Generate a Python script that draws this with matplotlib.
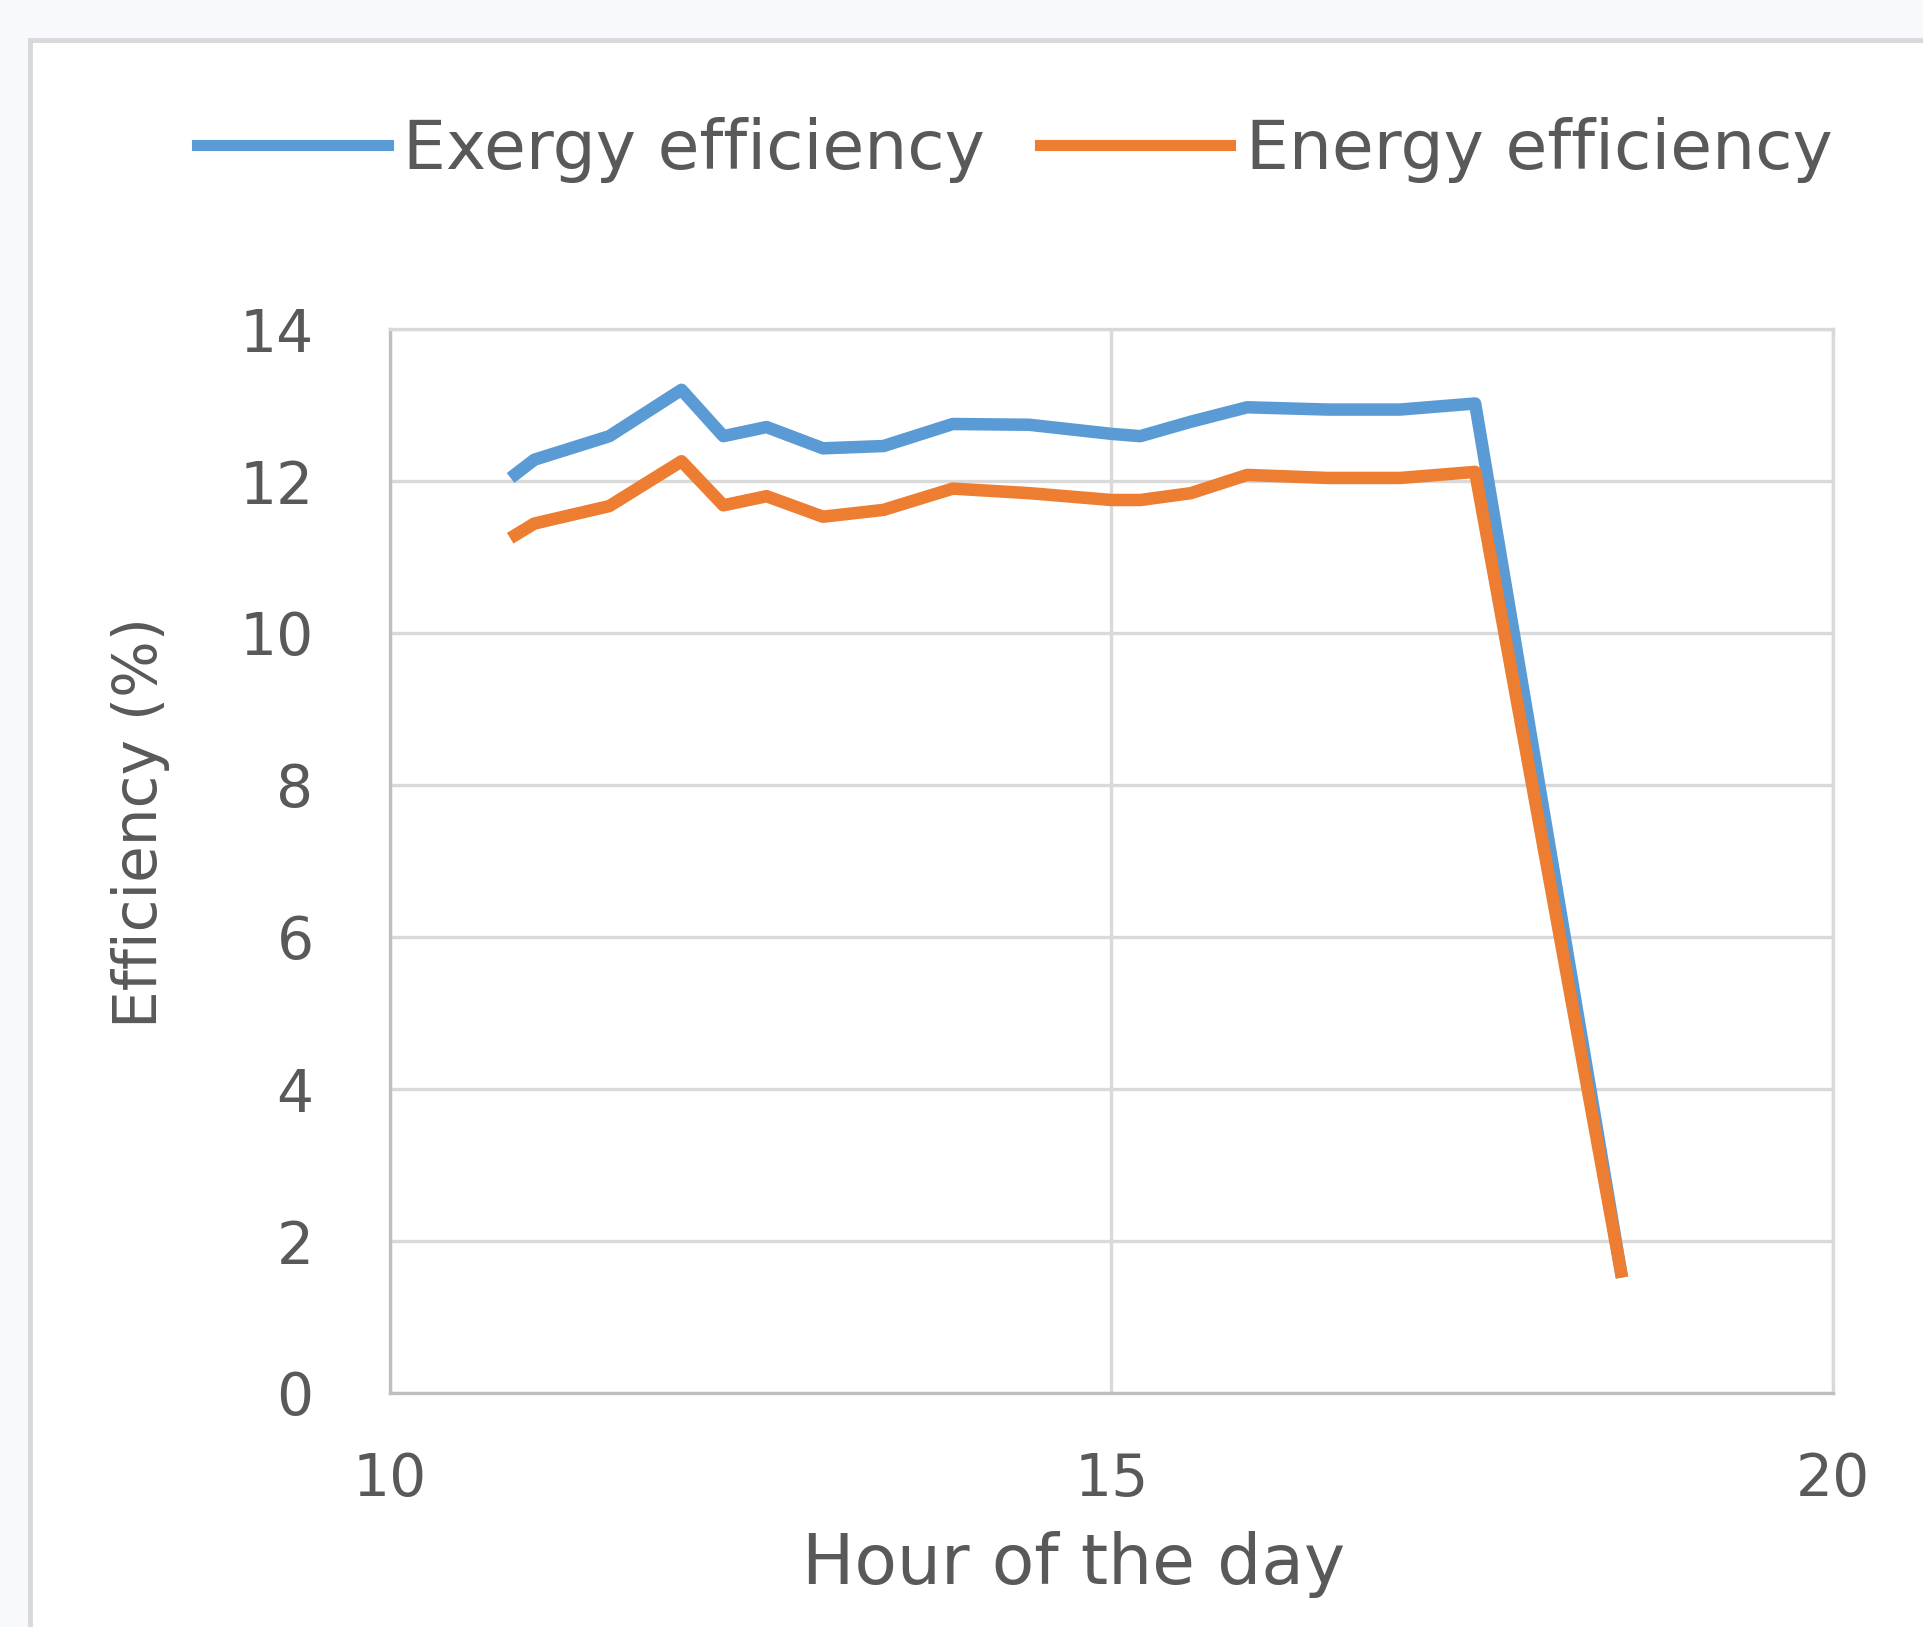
import matplotlib
matplotlib.use('Agg')
import matplotlib.pyplot as plt
from matplotlib.patches import Rectangle

# dati
ore = [10.87, 11.0, 11.52, 12.02, 12.31, 12.61, 13.0, 13.42, 13.9, 14.43,
       15.0, 15.2, 15.55, 15.94, 16.5, 17.0, 17.52, 18.53]
exergia = [12.09, 12.28, 12.59, 13.20, 12.59, 12.71, 12.43, 12.46, 12.75, 12.74,
           12.62, 12.59, 12.78, 12.97, 12.94, 12.94, 13.02, 1.6]
energia = [11.29, 11.44, 11.67, 12.26, 11.68, 11.80, 11.53, 11.62, 11.90, 11.84,
           11.75, 11.75, 11.84, 12.08, 12.04, 12.04, 12.12, 1.6]
etichette = ['Exergy efficiency', 'Energy efficiency']
colori = ['#5B9BD5', '#ED7D31']
x_ticks = [10, 15, 20]
y_ticks = [0, 2, 4, 6, 8, 10, 12, 14]

W, H = 1924, 1627
testo = '#595959'
griglia = '#d9d9d9'

plt.rcParams['font.family'] = ['DejaVu Sans']

fig = plt.figure(figsize=(W / 100, H / 100), dpi=100, facecolor='#f7f9fc')

# riquadro del grafico
fig.patches.append(Rectangle((30 / W, -0.1), 1.2, 1 - 40 / H + 0.1, transform=fig.transFigure,
                             facecolor='white', edgecolor=griglia, linewidth=3.5, zorder=-1))

ax = fig.add_axes([390 / W, 1 - 1393 / H, (1833 - 390) / W, (1393 - 329) / H])
ax.set_facecolor('white')

ax.plot(ore, exergia, color=colori[0], linewidth=9, label=etichette[0])
ax.plot(ore, energia, color=colori[1], linewidth=9, label=etichette[1])

ax.set_xlim(10, 20)
ax.set_ylim(0, 14)
ax.set_xticks(x_ticks)
ax.set_yticks(y_ticks)
ax.grid(True, color=griglia, linewidth=2.4)
ax.set_axisbelow(True)
for lato in ['top', 'right']:
    ax.spines[lato].set_color(griglia)
    ax.spines[lato].set_linewidth(2.4)
for lato in ['left', 'bottom']:
    ax.spines[lato].set_color('#bfbfbf')
    ax.spines[lato].set_linewidth(2.4)
ax.tick_params(axis='both', length=0, labelsize=42, colors=testo)
ax.tick_params(axis='y', pad=55)
ax.tick_params(axis='x', pad=42)

fig.text(1074 / W, 1 - 1564 / H, 'Hour of the day', fontsize=50, color=testo,
         ha='center', va='center')
fig.text(141 / W, 1 - 822 / H, 'Efficiency (%)', fontsize=43, color=testo,
         ha='center', va='center', rotation=90)

leg = fig.legend(loc='center', bbox_to_anchor=(1015 / W, 1 - 150 / H), ncol=2,
                 frameon=False, fontsize=49, handlelength=2.8, handletextpad=0.23,
                 columnspacing=0.8, labelcolor=testo)
for l in leg.get_lines():
    l.set_linewidth(8)

fig.savefig('out.png', dpi=100, facecolor=fig.get_facecolor())
